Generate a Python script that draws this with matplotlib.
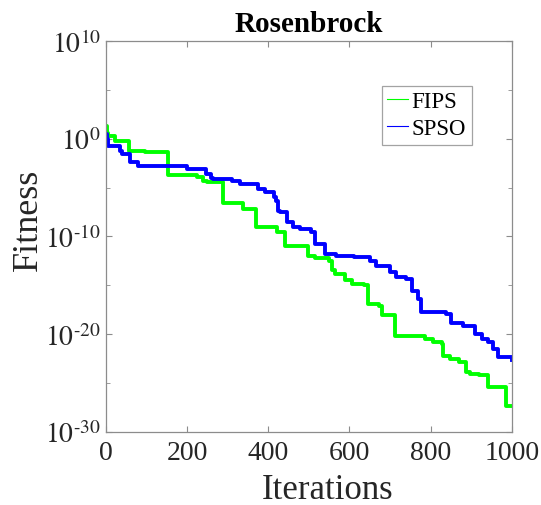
import numpy as np
import matplotlib
matplotlib.use("Agg")
import matplotlib.pyplot as plt
from matplotlib.lines import Line2D
from matplotlib.ticker import FixedLocator, NullFormatter

plt.rcParams["font.family"] = ["Liberation Serif", "DejaVu Serif"]
plt.rcParams["mathtext.fontset"] = "stix"

# step breakpoints: iteration and log10(fitness)
fips_iter = [0, 3, 5, 23, 58, 97, 154, 224, 240, 250, 289, 339, 371, 421, 441,
             498, 515, 550, 558, 565, 590, 605, 636, 646, 673, 679, 712, 786,
             805, 827, 830, 847, 870, 888, 897, 920, 940, 985, 1000]
fips_log = [1.34, 0.6, 0.31, -0.2, -1.22, -1.32, -3.68, -3.95, -4.3, -4.46, -6.6,
            -7.19, -9.06, -9.57, -10.94, -11.96, -12.15, -12.47, -13.4, -13.84,
            -14.5, -14.86, -14.96, -16.9, -17.07, -18.03, -20.2, -20.5, -20.8,
            -21.0, -22.2, -22.5, -22.8, -23.9, -24.06, -24.2, -25.4, -27.3, -27.3]

spso_iter = [0, 2, 6, 35, 39, 60, 80, 199, 248, 260, 265, 310, 330, 375, 392,
             413, 418, 423, 430, 445, 460, 478, 505, 515, 540, 566, 610, 650,
             665, 700, 715, 740, 755, 768, 776, 838, 850, 880, 909, 925, 942,
             954, 966, 1000]
spso_log = [0.49, 0.0, -0.71, -1.22, -1.56, -2.41, -2.76, -3.1, -3.6, -4.0, -4.12,
            -4.3, -4.63, -5.14, -5.48, -6.0, -6.33, -7.36, -7.52, -8.5, -9.0,
            -9.23, -9.57, -10.77, -11.79, -11.96, -12.1, -12.5, -12.99, -13.66,
            -14.17, -14.35, -15.54, -16.4, -17.76, -17.93, -18.9, -19.2, -19.97,
            -20.5, -20.76, -21.5, -22.36, -22.6]

y_major = [10, 0, -10, -20, -30]
y_minor = [5, -5, -15, -25]
x_ticks = [0, 200, 400, 600, 800, 1000]

fig = plt.figure(figsize=(5.41, 5.06), dpi=100)
ax = fig.add_axes([0.1954, 0.1443, 0.7510, 0.7727])

ax.plot(fips_iter, 10.0 ** np.array(fips_log), drawstyle="steps-post",
        color="#00ff00", lw=2.8)
ax.plot(spso_iter, 10.0 ** np.array(spso_log), drawstyle="steps-post",
        color="#0000ff", lw=2.8)

ax.set_yscale("log")
ax.set_xlim(0, 1000)
ax.set_ylim(1e-30, 1e10)
ax.yaxis.set_major_locator(FixedLocator([10.0 ** e for e in y_major]))
ax.yaxis.set_minor_locator(FixedLocator([10.0 ** e for e in y_minor]))
ax.yaxis.set_minor_formatter(NullFormatter())
ax.set_yticklabels([r"$10^{\text{%d}}$" % e for e in y_major])
ax.set_xticks(x_ticks)
ax.set_xticklabels([str(t) for t in x_ticks])

for s in ax.spines.values():
    s.set_color("#8c8c8c")
    s.set_linewidth(0.9)
ax.tick_params(which="both", direction="in", top=True, right=True,
               color="#8c8c8c", labelsize=20, labelcolor="#262626")
ax.tick_params(which="major", length=4)
ax.tick_params(which="minor", length=3)
ax.tick_params(axis="x", pad=6)

ax.set_xlabel("Iterations", fontsize=25, color="#262626")
ax.xaxis.set_label_coords(0.545, -0.105)
ax.set_ylabel("Fitness", fontsize=26, color="#262626")
ax.yaxis.set_label_coords(-0.15, 0.545)
ax.set_title("Rosenbrock", fontsize=21, fontweight="bold", pad=7)

handles = [Line2D([], [], color="#00ff00", lw=0.8),
           Line2D([], [], color="#0000ff", lw=0.8)]
leg = ax.legend(handles, ["FIPS", "SPSO"], loc="upper left",
                bbox_to_anchor=(0.679, 0.886), borderaxespad=0, fontsize=16.5,
                frameon=True, fancybox=False, handlelength=0.9,
                handletextpad=0.15, borderpad=0.25, labelspacing=0.25)
leg.get_frame().set_edgecolor("#8c8c8c")
leg.get_frame().set_linewidth(0.9)

fig.savefig("out.png", dpi=100)
